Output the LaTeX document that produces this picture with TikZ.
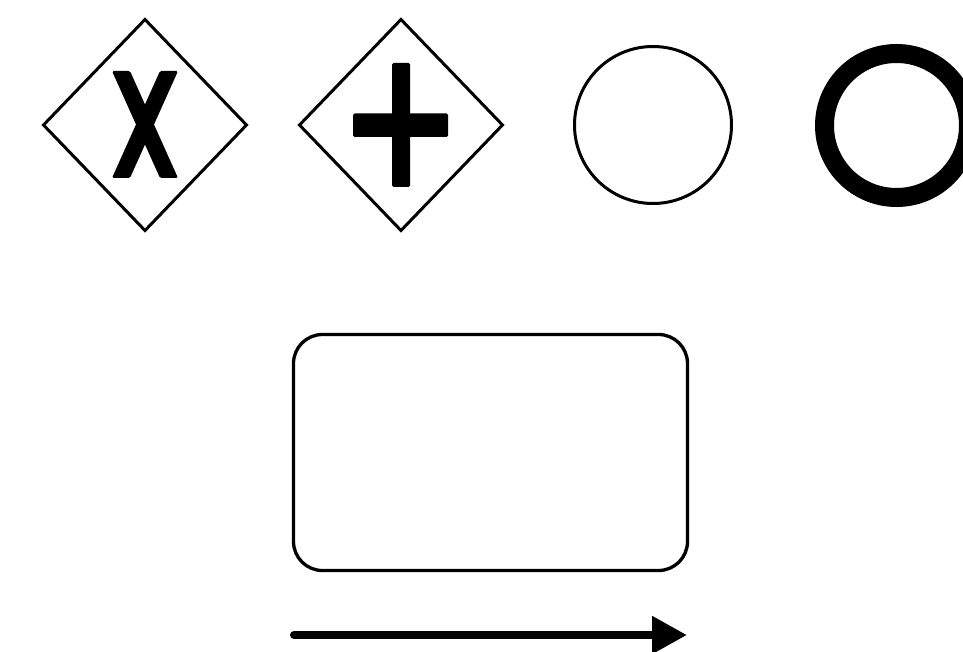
\documentclass[tikz,border=0pt]{standalone}
\usetikzlibrary{shapes.geometric,arrows.meta}
\begin{document}
\begin{tikzpicture}[x=1pt,y=-1pt,
  gateway/.style={draw,shape=diamond,inner sep=0pt,outer sep=0pt,line width=3pt,minimum width=203pt,minimum height=211pt},
  startevent/.style={draw,circle,inner sep=0pt,outer sep=0pt,line width=3pt,minimum size=157pt},
  endevent/.style={draw,circle,inner sep=0pt,outer sep=0pt,line width=19pt,minimum size=144pt},
  task/.style={draw,rectangle,rounded corners=29pt,inner sep=0pt,outer sep=0pt,line width=3.3pt,minimum width=394pt,minimum height=236pt},
  glyph/.style={fill=black,rounded corners=1.5pt},
  flow/.style={line width=8pt,line cap=round,-{Triangle[length=35pt,width=36pt]}}]
\useasboundingbox (0,0) rectangle (963,652);
\node[gateway] (xor) at (145,125) {};
\node[gateway] (and) at (401,125) {};
\node[startevent] (start) at (653,125) {};
\node[endevent] (end) at (896.5,125.5) {};
\node[task] (task) at (490.5,452.5) {};
% X glyph
\begin{scope}[shift={(xor.center)}]
\fill[glyph] (-33,-54) -- (-15,-54) -- (33,53) -- (15,53) -- cycle;
\fill[glyph] (15,-54) -- (33,-54) -- (-15,53) -- (-33,53) -- cycle;
\end{scope}
% plus glyph
\begin{scope}[shift={(and.center)}]
\fill[glyph] (-9,-62) rectangle (9,62);
\fill[glyph] (-48,-11.5) rectangle (47,12);
\end{scope}
\coordinate (fs) at (294,635);
\coordinate (fe) at (687,635);
\draw[flow] (fs) -- (fe);
\end{tikzpicture}
\end{document}
